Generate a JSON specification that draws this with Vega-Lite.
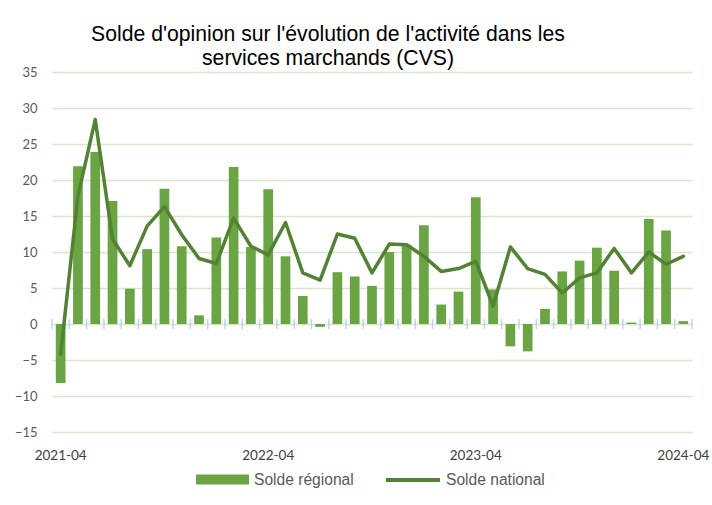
{
  "$schema": "https://vega.github.io/schema/vega-lite/v6.json",
  "autosize": {"type": "none"},
  "width": 640,
  "height": 360,
  "padding": {"left": 52, "top": 72, "right": 20, "bottom": 73},
  "background": "white",
  "title": {
    "text": ["Solde d'opinion sur l'évolution de l'activité dans les", "services marchands (CVS)"],
    "font": "Liberation Sans",
    "fontSize": 21.2,
    "fontWeight": "normal",
    "color": "#000000",
    "anchor": "middle",
    "dx": -44,
    "offset": -3,
    "lineHeight": 24
  },
  "data": {
    "values": [
      {"mois": "2021-04", "regional": -8.2, "national": -4.2},
      {"mois": "2021-05", "regional": 21.9, "national": 17.8},
      {"mois": "2021-06", "regional": 23.9, "national": 28.4},
      {"mois": "2021-07", "regional": 17.1, "national": 11.8},
      {"mois": "2021-08", "regional": 4.9, "national": 8.1},
      {"mois": "2021-09", "regional": 10.4, "national": 13.6},
      {"mois": "2021-10", "regional": 18.8, "national": 16.3},
      {"mois": "2021-11", "regional": 10.8, "national": 12.4},
      {"mois": "2021-12", "regional": 1.2, "national": 9.1},
      {"mois": "2022-01", "regional": 12.0, "national": 8.4},
      {"mois": "2022-02", "regional": 21.8, "national": 14.7},
      {"mois": "2022-03", "regional": 10.7, "national": 10.8},
      {"mois": "2022-04", "regional": 18.7, "national": 9.6},
      {"mois": "2022-05", "regional": 9.4, "national": 14.1},
      {"mois": "2022-06", "regional": 3.9, "national": 7.1},
      {"mois": "2022-07", "regional": -0.4, "national": 6.1},
      {"mois": "2022-08", "regional": 7.2, "national": 12.5},
      {"mois": "2022-09", "regional": 6.6, "national": 11.9},
      {"mois": "2022-10", "regional": 5.3, "national": 7.1},
      {"mois": "2022-11", "regional": 10.0, "national": 11.1},
      {"mois": "2022-12", "regional": 11.0, "national": 11.0},
      {"mois": "2023-01", "regional": 13.7, "national": 9.4},
      {"mois": "2023-02", "regional": 2.7, "national": 7.3},
      {"mois": "2023-03", "regional": 4.5, "national": 7.7},
      {"mois": "2023-04", "regional": 17.6, "national": 8.7},
      {"mois": "2023-05", "regional": 4.8, "national": 2.5},
      {"mois": "2023-06", "regional": -3.1, "national": 10.7},
      {"mois": "2023-07", "regional": -3.8, "national": 7.7},
      {"mois": "2023-08", "regional": 2.1, "national": 6.9},
      {"mois": "2023-09", "regional": 7.3, "national": 4.3},
      {"mois": "2023-10", "regional": 8.8, "national": 6.4},
      {"mois": "2023-11", "regional": 10.6, "national": 7.1},
      {"mois": "2023-12", "regional": 7.4, "national": 10.5},
      {"mois": "2024-01", "regional": 0.2, "national": 7.1},
      {"mois": "2024-02", "regional": 14.6, "national": 10.0},
      {"mois": "2024-03", "regional": 13.0, "national": 8.3},
      {"mois": "2024-04", "regional": 0.4, "national": 9.4}
    ]
  },
  "encoding": {
    "x": {
      "field": "mois",
      "type": "ordinal",
      "sort": null,
      "scale": {"paddingInner": 0, "paddingOuter": 0},
      "axis": {
        "title": null,
        "values": ["2021-04", "2022-04", "2023-04", "2024-04"],
        "labelAngle": 0,
        "ticks": false,
        "domain": false,
        "grid": false,
        "labelPadding": 16,
        "labelFont": "Lato",
        "labelFontSize": 13.5,
        "labelColor": "#404040"
      }
    }
  },
  "layer": [
    {
      "mark": {"type": "bar", "width": {"band": 0.56}},
      "encoding": {
        "y": {
          "field": "regional",
          "type": "quantitative",
          "scale": {"domain": [-15, 35], "nice": false, "zero": false}
        },
        "fill": {
          "datum": "Solde régional",
          "scale": {"domain": ["Solde régional"], "range": ["#6aa443"]},
          "legend": {
            "title": null,
            "orient": "none",
            "legendX": 144,
            "legendY": 381,
            "symbolType": "M-1,-0.19H1V0.19H-1Z",
            "symbolSize": 2809,
            "symbolStrokeWidth": 0,
            "labelFont": "Liberation Sans",
            "labelFontSize": 15.6,
            "labelColor": "#595959",
            "labelOffset": 5
          }
        }
      }
    },
    {
      "mark": {"type": "rule", "color": "#bcd4ee", "strokeWidth": 1.75},
      "encoding": {"y": {"datum": 0, "type": "quantitative"}}
    },
    {
      "mark": {"type": "rule", "color": "#bcd4ee", "strokeWidth": 1.5},
      "encoding": {
        "x": {"field": "mois", "type": "ordinal", "sort": null, "bandPosition": 0},
        "y": {"datum": 0.7, "type": "quantitative"},
        "y2": {"datum": -0.7}
      }
    },
    {
      "transform": [{"filter": "datum.mois == '2024-04'"}],
      "mark": {"type": "rule", "color": "#bcd4ee", "strokeWidth": 1.5},
      "encoding": {
        "x": {"field": "mois", "type": "ordinal", "sort": null, "bandPosition": 1},
        "y": {"datum": 0.7, "type": "quantitative"},
        "y2": {"datum": -0.7}
      }
    },
    {
      "mark": {"type": "line", "strokeWidth": 3.5, "strokeCap": "round", "strokeJoin": "round"},
      "encoding": {
        "y": {"field": "national", "type": "quantitative"},
        "stroke": {
          "datum": "Solde national",
          "scale": {"domain": ["Solde national"], "range": ["#548235"]},
          "legend": {
            "title": null,
            "orient": "none",
            "legendX": 332,
            "legendY": 379,
            "symbolType": "stroke",
            "symbolSize": 2916,
            "symbolStrokeWidth": 4,
            "labelFont": "Liberation Sans",
            "labelFontSize": 15.6,
            "labelColor": "#595959",
            "labelOffset": 4
          }
        }
      }
    }
  ],
  "config": {
    "view": {"stroke": null},
    "axisY": {
      "title": null,
      "values": [-15, -10, -5, 0, 5, 10, 15, 20, 25, 30, 35],
      "labelOverlap": false,
      "labelSeparation": 0,
      "ticks": false,
      "domain": false,
      "grid": true,
      "gridColor": "#d3e8c6",
      "gridWidth": 1.5,
      "labelPadding": 15,
      "labelFont": "Lato",
      "labelFontSize": 13,
      "labelColor": "#595959"
    }
  }
}
